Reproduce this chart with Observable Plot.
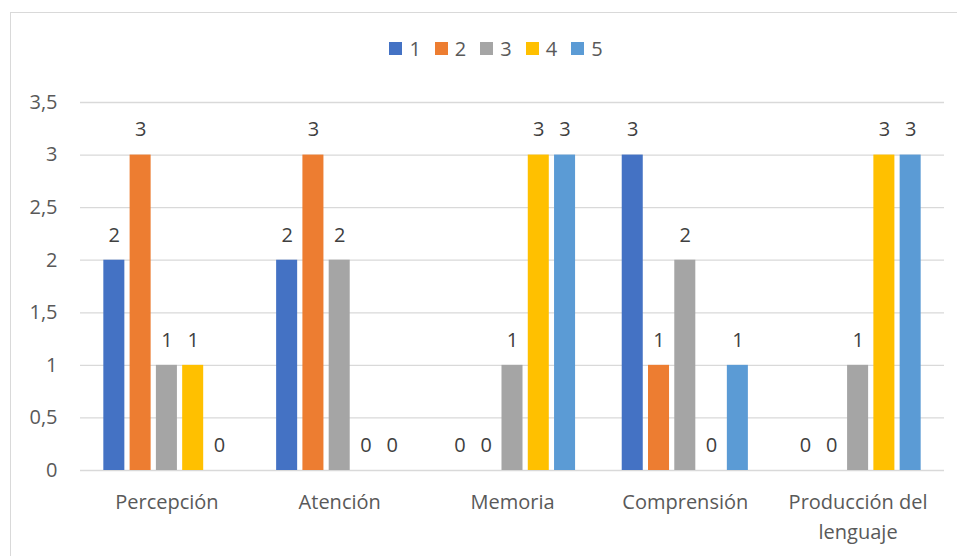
<!DOCTYPE html>
<html>
<head>
<meta charset="utf-8">
<script src="https://cdn.jsdelivr.net/npm/d3@7"></script>
<script src="https://cdn.jsdelivr.net/npm/@observablehq/plot@0.6"></script>
<style>
  html, body { margin: 0; padding: 0; background: #fff; }
  #wrap { position: relative; width: 957px; height: 556px; overflow: hidden; font-family: "Open Sans", sans-serif; }
  #border { position: absolute; left: 10px; top: 12px; width: 960px; height: 560px; border: 1px solid #d9d9d9; box-sizing: border-box; }
  #legend { position: absolute; top: 35px; left: 0; width: 992px; display: flex; justify-content: center; gap: 14px; font-size: 20px; color: #595959; }
  #legend .item { display: flex; align-items: center; gap: 7px; }
  #legend .sw { width: 13px; height: 13px; display: inline-block; }
  .layer { position: absolute; left: 0; top: 0; }
  .layer svg { background: transparent !important; }
</style>
</head>
<body>
<div id="wrap">
  <div id="border"></div>
  <div id="legend"></div>
  <div id="bg" class="layer"></div>
  <div id="bars" class="layer"></div>
</div>
<script>
const categories = ["Percepción", "Atención", "Memoria", "Comprensión", "Producción del lenguaje"];
const categoryLabels = ["Percepción", "Atención", "Memoria", "Comprensión", "Producción del\nlenguaje"];
const seriesNames = ["1", "2", "3", "4", "5"];
const series1 = [2, 2, 0, 3, 0];
const series2 = [3, 3, 0, 1, 0];
const series3 = [1, 2, 1, 2, 1];
const series4 = [1, 0, 3, 0, 3];
const series5 = [0, 0, 3, 1, 3];
const colors = ["#4472C4", "#ED7D31", "#A5A5A5", "#FFC000", "#5B9BD5"];
const yTicks = [0, 0.5, 1, 1.5, 2, 2.5, 3, 3.5];
const yTickLabels = ["0", "0,5", "1", "1,5", "2", "2,5", "3", "3,5"];

const allSeries = [series1, series2, series3, series4, series5];
const data = [];
categories.forEach((c, ci) => {
  seriesNames.forEach((s, si) => {
    data.push({category: c, series: s, value: allSeries[si][ci]});
  });
});

const W = 957, H = 556;
const margins = {marginLeft: 80, marginRight: 13, marginTop: 102, marginBottom: 86};
const fontStyle = {fontFamily: "Open Sans, sans-serif", fontSize: "20px", color: "#595959", background: "transparent", overflow: "visible"};

// Background: grid, axes
const bg = Plot.plot({
  width: W, height: H, ...margins,
  style: fontStyle,
  x: {type: "band", domain: categories, paddingInner: 0.27, paddingOuter: 0.135, round: false, axis: null},
  y: {domain: [0, 3.5], axis: null},
  marks: [
    Plot.ruleY(yTicks.filter(d => d > 0), {stroke: "#d9d9d9", strokeWidth: 1.3}),
    Plot.ruleY([0], {stroke: "#d9d9d9", strokeWidth: 1.6}),
    Plot.axisY({ticks: yTicks, tickFormat: d => yTickLabels[yTicks.indexOf(d)], tickSize: 0, tickPadding: 23, fill: "#595959"}),
    Plot.axisX({tickFormat: d => categoryLabels[categories.indexOf(d)], tickSize: 0, tickPadding: 17, lineHeight: 1.5, fill: "#595959"})
  ]
});
document.getElementById("bg").appendChild(bg);

// Bars
const bars = Plot.plot({
  width: W, height: H, ...margins,
  style: fontStyle,
  fx: {domain: categories, paddingInner: 0.27, paddingOuter: 0.135, round: false, axis: null},
  x: {domain: seriesNames, paddingInner: 0.2, paddingOuter: 0, round: false, axis: null},
  y: {domain: [0, 3.5], axis: null},
  color: {domain: seriesNames, range: colors},
  marks: [
    Plot.barY(data, {fx: "category", x: "series", y: "value", fill: "series"}),
    Plot.text(data, {fx: "category", x: "series", y: "value", text: d => String(d.value), dy: -25, fill: "#404040", fontSize: 20})
  ]
});
document.getElementById("bars").appendChild(bars);

// Legend
const legend = document.getElementById("legend");
seriesNames.forEach((s, i) => {
  const item = document.createElement("div");
  item.className = "item";
  const sw = document.createElement("span");
  sw.className = "sw";
  sw.style.background = colors[i];
  const t = document.createElement("span");
  t.textContent = s;
  item.appendChild(sw);
  item.appendChild(t);
  legend.appendChild(item);
});
</script>
</body>
</html>
